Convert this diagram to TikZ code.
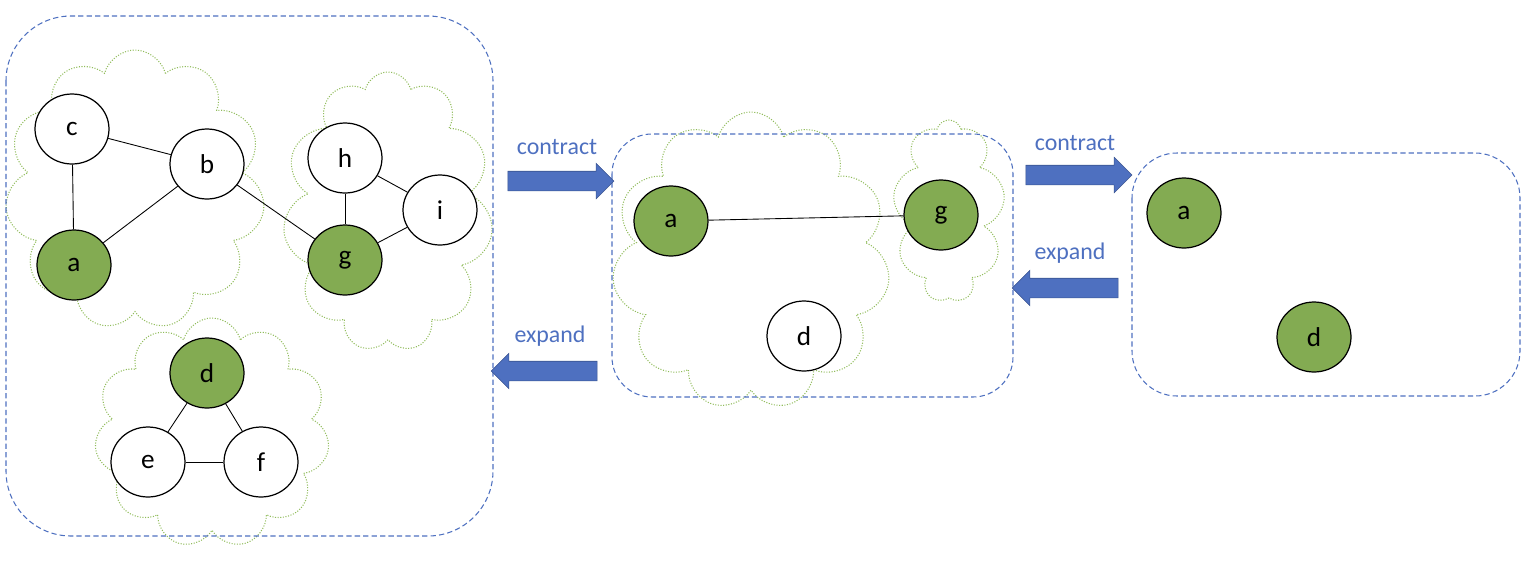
\documentclass[tikz,border=0pt]{standalone}
\usepackage{fontspec}
\setmainfont{Carlito}
\usetikzlibrary{shapes.geometric,shapes.symbols,shapes.arrows}
\definecolor{grafgreen}{RGB}{131,171,82}
\definecolor{cloudgreen}{RGB}{145,188,92}
\definecolor{pptblue}{RGB}{78,112,192}
\tikzset{
  vtx/.style={ellipse, draw, line width=0.7pt, minimum width=1.48cm, minimum height=1.4cm, inner sep=0pt, fill=white, font=\fontsize{15.5}{18}\selectfont},
  term/.style={vtx, fill=grafgreen},
  cloudy/.style={cloud, cloud puffs=11, cloud ignores aspect, draw=cloudgreen, dash pattern=on 0.6pt off 0.9pt, line width=0.6pt, inner sep=0pt},
  frame/.style={draw=pptblue, dash pattern=on 3pt off 1.8pt, line width=0.6pt},
  blockarr/.style={single arrow, fill=pptblue, draw=pptblue!75!black, line width=0.3pt, inner xsep=0pt, inner ysep=0.19cm, text height=0pt, text depth=0pt, text width=0pt, single arrow head extend=0.16cm, minimum height=2.12cm},
  lbl/.style={text=pptblue, font=\fontsize{13.6}{16}\selectfont},
  edge/.style={line width=0.5pt}
}
\begin{document}
\begin{tikzpicture}[x=0.02cm, y=-0.02cm]
  \useasboundingbox (0,0) rectangle (1535,582);

  % Wolken
  \node[cloudy, minimum width=5.2cm, minimum height=5.6cm] (k1) at (135,190) {};
  \node[cloudy, minimum width=4.2cm, minimum height=5.6cm] (k2) at (388,212) {};
  \node[cloudy, minimum width=4.7cm, minimum height=4.6cm] (k3) at (212,433) {};
  \node[cloudy, minimum width=5.56cm, minimum height=5.96cm] (k4) at (751,261) {};
  \node[cloudy, cloud puffs=9, minimum width=2.24cm, minimum height=3.64cm] (k5) at (949,211) {};

  % Rahmen
  \draw[frame, rounded corners=1.3cm] (6,16) rectangle (493,536);
  \draw[frame, rounded corners=0.8cm] (612,134) rectangle (1013,397);
  \draw[frame, rounded corners=0.9cm] (1132,153) rectangle (1520,396);

  % Ausgangsgraph
  \node[vtx] (lc) at (72,129) {c};
  \node[vtx] (lb) at (207,164) {b};
  \node[term] (la) at (74,265) {a};
  \node[vtx] (lh) at (345,158) {h};
  \node[vtx] (li) at (440,210) {i};
  \node[term] (lg) at (345,260) {g};
  \node[term] (ld) at (207,373) {d};
  \node[vtx] (le) at (148,462) {e};
  \node[vtx] (lf) at (261,462) {f};
  \draw[edge] (lc) -- (lb);
  \draw[edge] (lc) -- (la);
  \draw[edge] (lb) -- (la);
  \draw[edge] (lb) -- (lg);
  \draw[edge] (lh) -- (lg);
  \draw[edge] (lh) -- (li);
  \draw[edge] (li) -- (lg);
  \draw[edge] (ld) -- (le);
  \draw[edge] (ld) -- (lf);
  \draw[edge] (le) -- (lf);

  % erste Kontraktion
  \node[term] (ma) at (671,221) {a};
  \node[term] (mg) at (941,215) {g};
  \node[vtx] (md) at (804,336) {d};
  \draw[edge] (ma) -- (mg);

  % zweite Kontraktion
  \node[term] (ra) at (1184,213) {a};
  \node[term] (rd) at (1314,337) {d};

  % Pfeile
  \node[blockarr] (c1) at (556,181) {};
  \node[lbl] at (557,147) {contract};
  \node[blockarr, shape border rotate=180] (e1) at (549,371) {};
  \node[lbl] at (550,336) {expand};
  \node[blockarr] (c2) at (1074,175) {};
  \node[lbl] at (1075,143) {contract};
  \node[blockarr, shape border rotate=180] (e2) at (1070,288) {};
  \node[lbl] at (1070,253) {expand};
\end{tikzpicture}
\end{document}
